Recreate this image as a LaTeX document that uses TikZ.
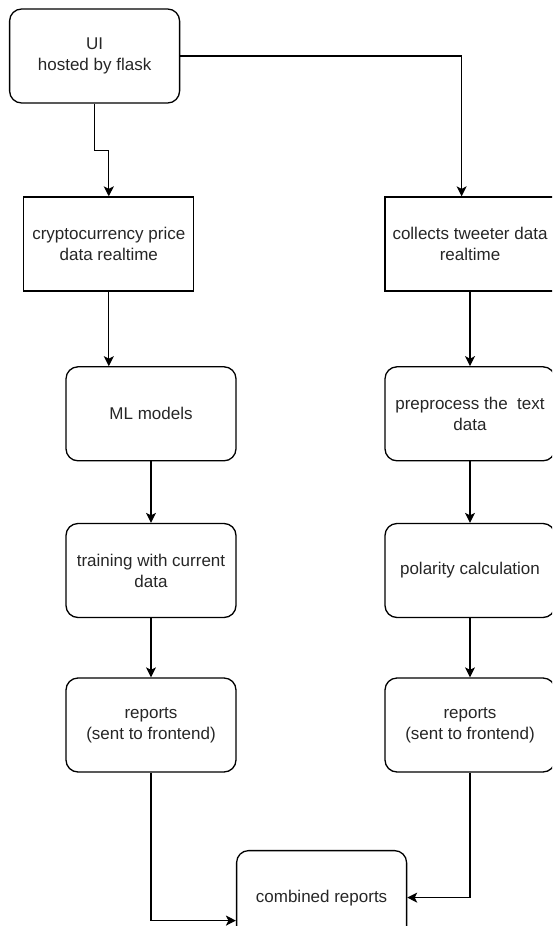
\documentclass[tikz,border=0pt]{standalone}
\usepackage{fontspec}
\setmainfont{Liberation Sans}
\usetikzlibrary{arrows.meta}

\begin{document}
\begin{tikzpicture}[x=1pt, y=-1pt,
        box/.style={draw, line width=1.3pt, minimum width=170pt, minimum height=94pt, align=center, font=\fontsize{17}{21}\selectfont, text=black!85},
        rbox/.style={box, rounded corners=12pt},
        arr/.style={-{Stealth[length=10pt, width=10pt, inset=2.5pt]}, line width=1.3pt}]
        \useasboundingbox (0,0) rectangle (552,926);
        \clip (0,0) rectangle (552,926);

        \node[rbox] (ui) at (94.6,56) {UI\\hosted by flask};
        \node[box] (price) at (108.8,244) {cryptocurrency price\\data realtime};
        \node[box] (tweets) at (470,244) {collects tweeter data\\realtime};
        \node[rbox] (models) at (151,413.8) {ML models};
        \node[rbox] (prep) at (470,413.8) {preprocess the~ text\\data};
        \node[rbox] (train) at (151,570.5) {training with current\\data};
        \node[rbox] (polar) at (470,570.5) {polarity calculation};
        \node[rbox] (repl) at (151,725) {reports\\(sent to frontend)};
        \node[rbox] (repr) at (470,725) {reports\\(sent to frontend)};
        \node[rbox] (comb) at (321.6,897.6) {combined reports};

        \draw[arr] (ui.south) -- ++(0,47) -| (price.north);
        \draw[arr] (ui.east) -| ([xshift=-8.4pt]tweets.north);
        \draw[arr] (price.south) -- (price.south |- models.north);
        \draw[arr] (models) -- (train);
        \draw[arr] (train) -- (repl);
        \draw[arr] (tweets) -- (prep);
        \draw[arr] (prep) -- (polar);
        \draw[arr] (polar) -- (repr);
        \draw[arr] (repl.south) |- ([yshift=-23pt]comb.west);
        \draw[arr] (repr.south) |- (comb.east);
    \end{tikzpicture}
\end{document}
